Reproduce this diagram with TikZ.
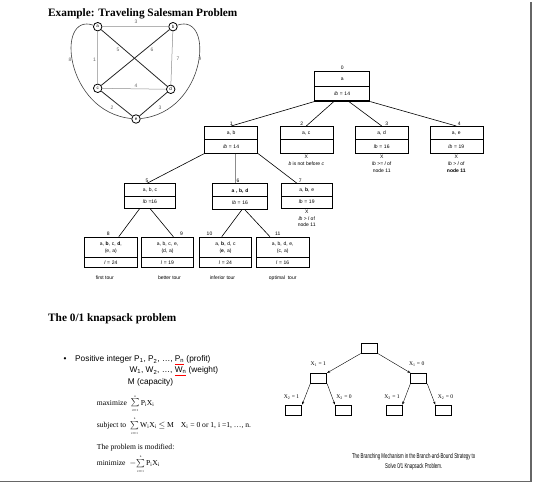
\documentclass[tikz,border=0pt]{standalone}
\usepackage{fontspec}
\usepackage{graphicx}
\setmainfont{Liberation Serif}
\setsansfont{Liberation Sans}
\usetikzlibrary{positioning,shapes.multipart,arrows.meta,calc}

\newcommand\tnfont{\sffamily\fontsize{5}{6.8}\selectfont}
\newcommand\cell[2]{\rule[-#2]{0pt}{#1}}
\newcommand\sq[1]{\textcolor{red}{\underline{\textcolor{black}{#1}}}}
\newcommand\lsum{\raisebox{0.4pt}{\scalebox{0.82}{\(\sum\limits_{\scriptscriptstyle\mathrm{i=1}}^{\scriptscriptstyle\mathrm{n}}\)}}}

\tikzset{
  tnode/.style={draw, rectangle split, rectangle split parts=2, text width=#1,
    align=center, inner xsep=0pt, inner ysep=0pt, font=\tnfont, line width=0.6pt},
  tnode/.default=53pt,
  leaf/.style={tnode=52.5pt, anchor=north, font=\sffamily\fontsize{5}{7}\selectfont},
  tnum/.style={font=\tnfont, inner sep=0.6pt},
  tline/.style={draw=black, line width=0.6pt},
  note/.style={font=\tnfont, align=center, inner sep=0pt},
  vert/.style={draw, circle, minimum size=8.5pt, inner sep=0pt, line width=0.8pt,
    font=\sffamily\fontsize{4.5}{5}\selectfont},
  lite/.style={draw=black!45, line width=0.5pt},
  dark/.style={draw=black!85, line width=0.8pt},
  curv/.style={draw=black!75, line width=0.6pt},
  wlab/.style={font=\sffamily\fontsize{5}{5}\selectfont, text=black!60, inner sep=0.5pt},
  ktxt/.style={font=\sffamily\fontsize{8.3}{10}\selectfont, inner sep=0pt, anchor=base west},
  mtxt/.style={font=\fontsize{7.6}{9}\selectfont, inner sep=0pt, anchor=base west},
  kbox/.style={draw, line width=0.9pt, minimum width=16pt, minimum height=10pt, inner sep=0pt},
  karrow/.style={-{Stealth[length=3pt,width=2.2pt]}, line width=0.4pt},
  klab/.style={font=\fontsize{5.6}{6}\selectfont, inner sep=0.5pt},
  kcap/.style={font=\sffamily\fontsize{7}{10}\selectfont, align=center, inner sep=0pt},
  head/.style={font=\bfseries\fontsize{11.3}{13}\selectfont, inner sep=0pt, anchor=base west},
}

\begin{document}
\begin{tikzpicture}[x=1pt,y=-1pt]
\useasboundingbox (0,0) rectangle (535,484);

% traveling salesman graph
\node[head] (tsp) at (48,16.3) {Example: Traveling Salesman Problem};
\node[vert] (a) at (97.7,26.7) {a};
\node[vert] (b) at (173,26.7) {b};
\node[vert] (c) at (97.7,88.3) {c};
\node[vert] (d) at (170.7,89.3) {d};
\node[vert] (e) at (136,119) {e};
\draw[lite] (a) -- (b) (a) -- (c) (b) -- (d) (c) -- (d);
\draw[dark] (a) -- (d) (b) -- (c) (c) -- (e) (d) -- (e);
\draw[curv] (a) .. controls (55,12) and (65,112) .. (e);
\draw[curv] (b) .. controls (215,12) and (207,112) .. (e);
\node[wlab] (w1) at (136,22) {3};
\node[wlab] (w2) at (94.5,60) {1};
\node[wlab] (w3) at (118,50) {5};
\node[wlab] (w4) at (152,50) {6};
\node[wlab] (w5) at (178,59) {7};
\node[wlab] (w6) at (136,85.5) {4};
\node[wlab] (w7) at (112,108) {2};
\node[wlab] (w8) at (160,108) {3};
\node[wlab] (w9) at (70,60) {8};
\node[wlab] (w10) at (200,59) {9};

% state space tree
\node[tnode=55pt, line width=1.1pt, anchor=north, label={[tnum]above:0}] (n0) at (342.2,70.7)
  {\cell{14.3pt}{5.3pt}a\nodepart{two}\cell{13.3pt}{4.8pt}\textit{lb} = 14};
\node[tnode, anchor=north, label={[tnum]above:1}] (n1) at (231.2,126)
  {\cell{12.3pt}{4.4pt}a, b\nodepart{two}\cell{13.4pt}{4.9pt}\textit{lb} = 14};
\node[tnode, anchor=north, label={[tnum,xshift=-4.5pt]above:2}] (n2) at (306.3,126)
  {\cell{12.3pt}{4.4pt}a, c\nodepart{two}\cell{13.4pt}{4.9pt}};
\node[tnode, anchor=north, label={[tnum,xshift=5pt]above:3}] (n3) at (381.7,126)
  {\cell{12.3pt}{4.4pt}a, d\nodepart{two}\cell{13.4pt}{4.9pt}\textit{lb} = 16};
\node[tnode, anchor=north, label={[tnum,xshift=3pt]above:4}] (n4) at (456.3,126)
  {\cell{12.3pt}{4.4pt}a, e\nodepart{two}\cell{13.4pt}{4.9pt}\textit{lb} = 19};
\node[tnode=50.5pt, anchor=north, label={[tnum,xshift=-3pt]above:5}] (n5) at (150,183.3)
  {\cell{11.7pt}{4pt}a, b, c\nodepart{two}\cell{11.7pt}{4pt}\textit{lb} =16};
\node[tnode=55pt, line width=1.1pt, anchor=north, label={[tnum,xshift=-2pt]above:6}] (n6) at (240,183.3)
  {\cell{11.7pt}{4pt}\textbf{a , b, d}\nodepart{two}\cell{11.7pt}{4pt}\textit{lb} = 16};
\node[tnode=50.5pt, line width=0.5pt, anchor=north, label={[tnum,xshift=-6.5pt]above:7}] (n7) at (306.7,183.3)
  {\cell{11.7pt}{4pt}a, \textbf{b}, e\nodepart{two}\cell{11.7pt}{4pt}\textit{lb} = 19};
\node[leaf, label={[tnum,xshift=-2.5pt]above:8}] (n8) at (110.8,236.7)
  {\rule{0pt}{8.5pt}a, \textbf{b}, c, \textbf{d},\\(e, a)\rule[-4.3pt]{0pt}{4.3pt}\nodepart{two}\cell{9.5pt}{3pt}\textit{l} = 24};
\node[leaf, label={[tnum,xshift=14pt]above:9}] (n9) at (167.5,236.7)
  {\rule{0pt}{8.5pt}a, b, c, e,\\(d, a)\rule[-4.3pt]{0pt}{4.3pt}\nodepart{two}\cell{9.5pt}{3pt}\textit{l} = 19};
\node[leaf, label={[tnum,xshift=-16pt]above:10}] (n10) at (225.5,236.7)
  {\rule{0pt}{8.5pt}a, \textbf{b}, d, c\\(\textbf{e}, a)\rule[-4.3pt]{0pt}{4.3pt}\nodepart{two}\cell{9.5pt}{3pt}\textit{l} = 24};
\node[leaf, label={[tnum,xshift=-5pt]above:11}] (n11) at (282.7,236.7)
  {\rule{0pt}{8.5pt}a, b, d, e,\\(c, a)\rule[-4.3pt]{0pt}{4.3pt}\nodepart{two}\cell{9.5pt}{3pt}\textit{l} = 16};

\draw[tline] (n0.south west) -- (n1.north);
\draw[tline] ($(n0.south west)!0.35!(n0.south east)$) -- (n2.north);
\draw[tline] ($(n0.south west)!0.62!(n0.south east)$) -- (n3.north);
\draw[tline] (n0.south east) -- (n4.north);
\draw[tline] (n1.south west) -- ($(n5.north west)!0.44!(n5.north east)$);
\coordinate (v6) at ($(n1.south west)!0.57!(n1.south east)$);
\draw[lite] (v6) -- (v6 |- n6.north);
\draw[tline] (n1.south east) -- ($(n7.north west)!0.31!(n7.north east)$);
\draw[tline] ($(n5.south west)!0.3!(n5.south east)$) -- ($(n8.north west)!0.65!(n8.north east)$);
\draw[tline] (n5.south) -- ($(n9.north west)!0.61!(n9.north east)$);
\draw[tline] ($(n6.south west)!0.53!(n6.south east)$) -- ($(n10.north west)!0.43!(n10.north east)$);
\draw[tline] ($(n6.south west)!0.59!(n6.south east)$) -- ($(n11.north west)!0.26!(n11.north east)$);

\node[note, below=1.5pt of n2] (x2) {X\\\textit{b} is not before \textit{c}};
\node[note, below=1.5pt of n3] (x3) {X\\\textit{lb} >= \textit{l} of\\node 11};
\node[note, below=1.5pt of n4] (x4) {X\\\textit{lb} > \textit{l} of\\\textbf{node 11}};
\node[note, below=1.5pt of n7] (x7) {X\\\textit{lb} > \textit{l} of\\node 11};
\node[note, below=8pt of n8, xshift=-6pt] (c8) {first tour};
\node[note, below=8pt of n9, xshift=2pt] (c9) {better tour};
\node[note, below=8pt of n10, xshift=-3pt] (c10) {inferior tour};
\node[note, below=8pt of n11] (c11) {optimal\ \ tour};

% knapsack text
\node[head] (kp) at (48,321) {The 0/1 knapsack problem};
\node[ktxt] (bul) at (63.3,361.7) {•};
\node[ktxt] (pr) at (75,361.7) {Positive integer P\textsubscript{1}, P\textsubscript{2}, …, \sq{P\textsubscript{n}} (profit)};
\node[ktxt] (wt) at (129.3,372.7) {W\textsubscript{1}, W\textsubscript{2}, …, \sq{W\textsubscript{n}} (weight)};
\node[ktxt] (cap) at (127.7,384) {M (capacity)};
\node[mtxt] (mx) at (96.7,405) {maximize\hspace{4pt}\lsum\,P\textsubscript{i}X\textsubscript{i}};
\node[mtxt] (sj) at (96.7,427.7) {subject to\hspace{4pt}\lsum\,W\textsubscript{i}X\textsubscript{i} \(\leq\) M\hspace{7pt}X\textsubscript{i} = 0 or 1, i =1, …, n.};
\node[mtxt] (md) at (96.7,449) {The problem is modified:};
\node[mtxt] (mn) at (96.7,465.7) {minimize\hspace{4pt}\(-\)\lsum\,P\textsubscript{i}X\textsubscript{i}};

% branching tree
\node[kbox] (k0) at (369.3,348) {};
\node[kbox] (k1) at (318.7,378.3) {};
\node[kbox] (k2) at (418.8,378.3) {};
\node[kbox] (k11) at (293.7,410) {};
\node[kbox] (k12) at (343.3,410) {};
\node[kbox] (k21) at (394,410) {};
\node[kbox] (k22) at (443.7,410) {};
\draw[karrow] (k0.south west) -- (k1.north east);
\draw[karrow] (k0.south east) -- (k2.north west);
\draw[karrow] (k1.south west) -- (k11.north east);
\draw[karrow] (k1.south east) -- (k12.north west);
\draw[karrow] (k2.south west) -- (k21.north east);
\draw[karrow] (k2.south east) -- (k22.north west);
\node[klab] (q1) at (318.3,364.3) {X\textsubscript{1} = 1};
\node[klab] (q2) at (416.7,364.3) {X\textsubscript{1} = 0};
\node[klab] (q11) at (291.5,396.7) {X\textsubscript{2} = 1};
\node[klab] (q12) at (344,396.7) {X\textsubscript{2} = 0};
\node[klab] (q21) at (392,396.7) {X\textsubscript{2} = 1};
\node[klab] (q22) at (445.5,396.7) {X\textsubscript{2} = 0};
\node[kcap] (kc) at (413.7,461.7) {\scalebox{0.62}[1]{The Branching Mechanism in the Branch-and-Bound Strategy to}\\
  \scalebox{0.62}[1]{Solve 0/1 Knapsack Problem.}};

% page shadow
\draw[black!60, line width=1.5pt] (531,2) -- (531,481.3) -- (0,481.3);
\end{tikzpicture}
\end{document}
